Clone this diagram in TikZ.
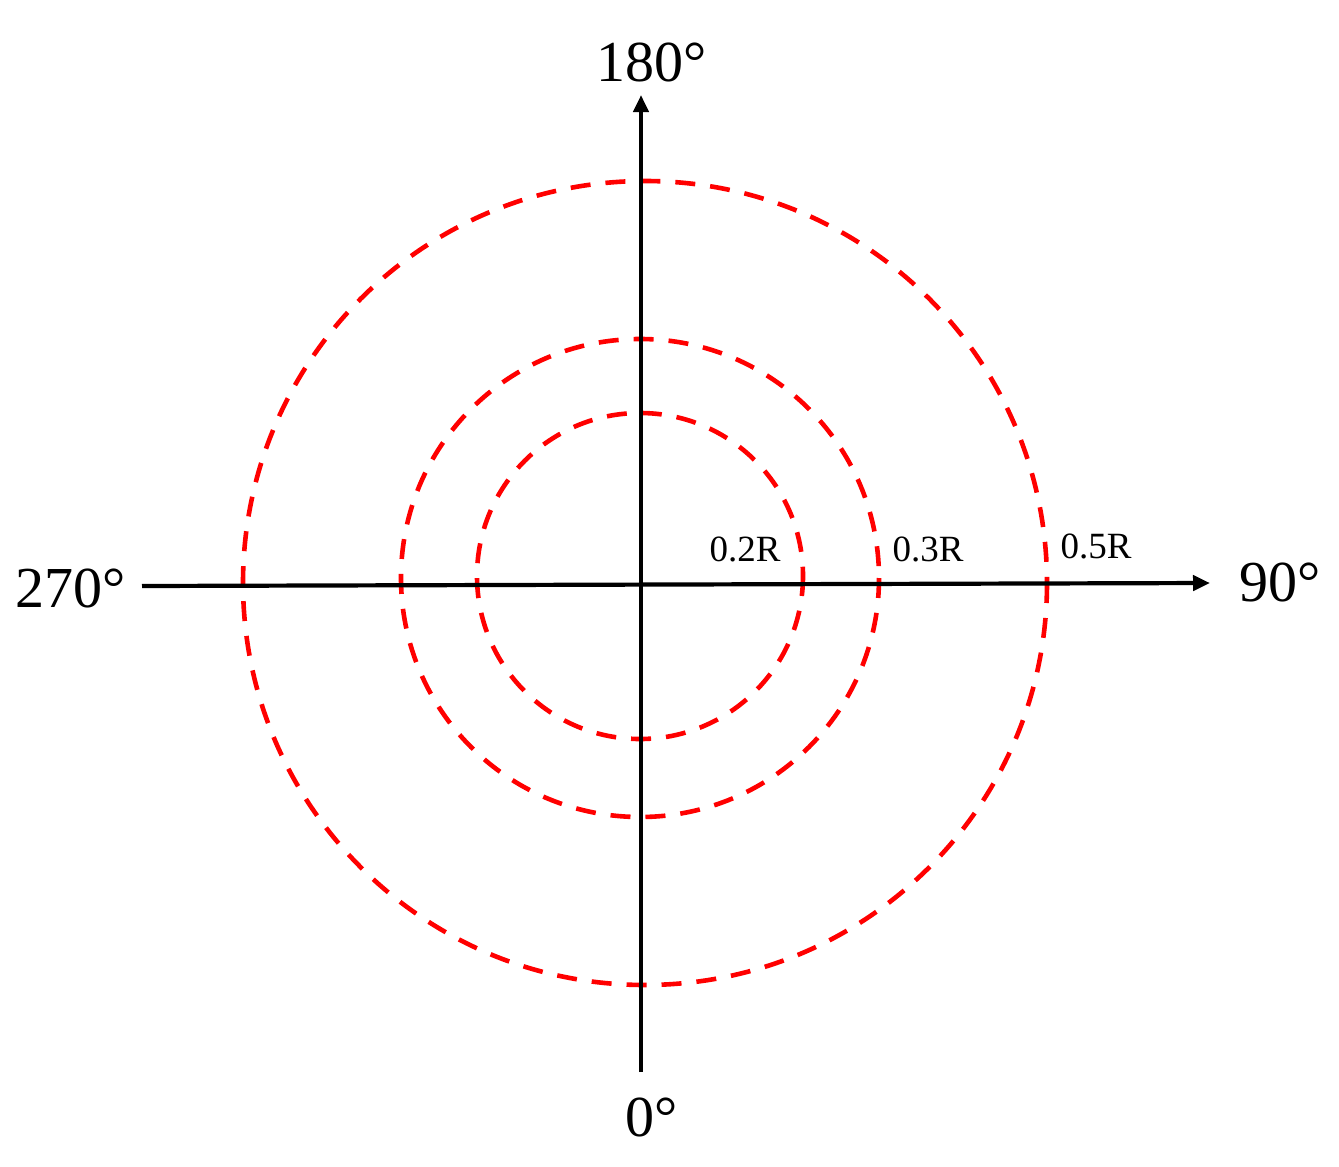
\documentclass[tikz,border=0pt]{standalone}
\usepackage{fontspec}
\setmainfont{Liberation Serif}
\usetikzlibrary{arrows.meta}
\begin{document}
\begin{tikzpicture}[x=1pt,y=-1pt,
  axisline/.style={line width=4.2pt,-{Triangle[length=17pt,width=15pt]}},
  ring/.style={draw=red,line width=4.6pt,dash pattern=on 20pt off 15pt},
  biglabel/.style={inner sep=0pt,font=\fontsize{58}{64}\selectfont},
  smalllabel/.style={inner sep=0pt,font=\fontsize{37}{40}\selectfont}]
\useasboundingbox (0,0) rectangle (1339,1167);
\coordinate (O) at (641,585);
\coordinate (bot) at (641,1072);
\coordinate (top) at (641,95);
\coordinate (lft) at (142,586);
\coordinate (rgt) at (1210,583);
\draw[ring] (640,576) circle (163);
\draw[ring] (640,578) circle (239);
\draw[ring] (645,583) circle (402);
\draw[axisline] (bot) -- (top);
\draw[axisline] (lft) -- (rgt);
\node[biglabel] (l180) at (652,62) {180°};
\node[biglabel] (l270) at (71,588) {270°};
\node[biglabel] (l90) at (1280,582) {90°};
\node[biglabel] (l0) at (652,1117) {0°};
\node[smalllabel] (r2) at (745,549) {0.2R};
\node[smalllabel] (r3) at (928,549) {0.3R};
\node[smalllabel] (r5) at (1096,546) {0.5R};
\end{tikzpicture}
\end{document}
